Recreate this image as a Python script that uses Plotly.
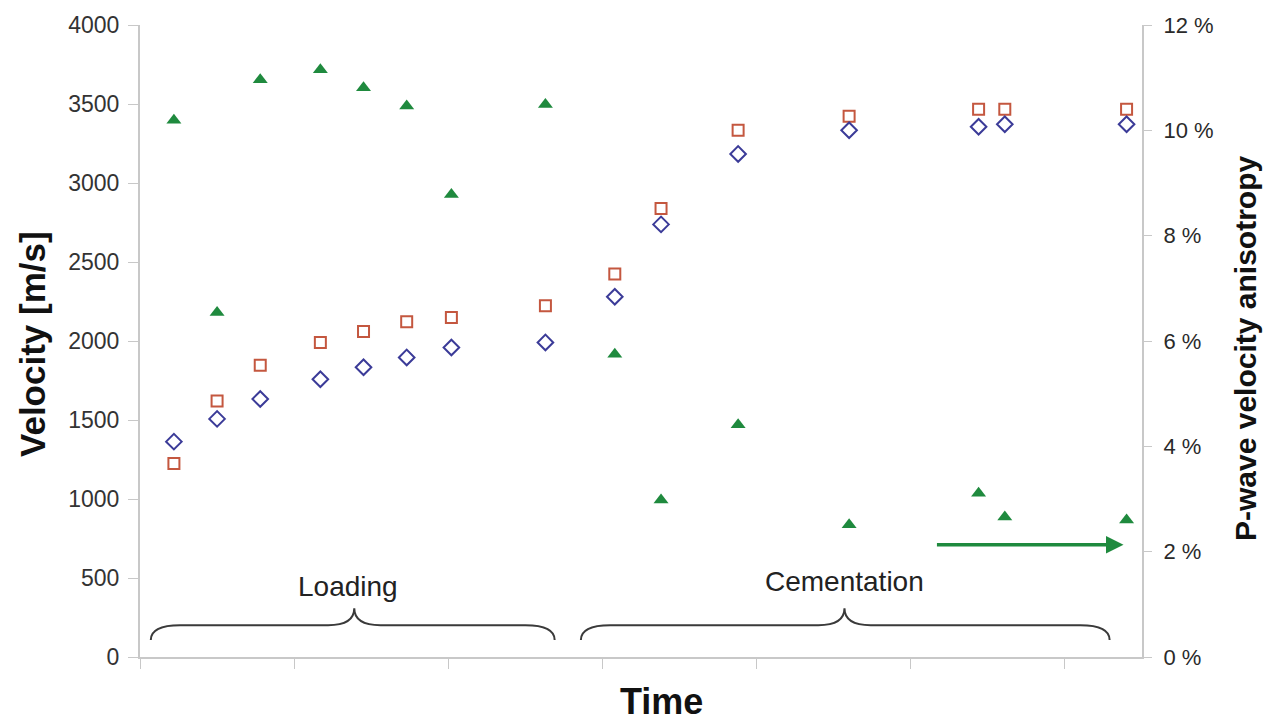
import plotly.graph_objects as go

# ---------------- data ----------------
time = [0.22, 0.50, 0.78, 1.17, 1.45, 1.73, 2.02, 2.63, 3.08, 3.38, 3.88, 4.60, 5.44, 5.61, 6.40]
vel_square = [1225, 1620, 1846, 1991, 2060, 2122, 2148, 2223, 2424, 2838, 3334, 3422, 3466, 3466, 3466]
vel_diamond = [1363, 1507, 1633, 1758, 1834, 1896, 1959, 1991, 2280, 2738, 3184, 3334, 3356, 3372, 3372]
anisotropy = [10.19, 6.54, 10.96, 11.15, 10.81, 10.46, 8.78, 10.49, 5.75, 2.98, 4.41, 2.51, 3.11, 2.66, 2.60]

phase_names = ["Loading", "Cementation"]
phase_start = [0.07, 2.86]
phase_end = [2.69, 6.29]
phase_mid = [1.39, 4.57]
phase_label_x = [1.35, 4.57]
phase_label_y = [445, 480]

arrow_start = 5.16
arrow_end = 6.38
arrow_level = 2.13

x_ticks = [0, 1, 2, 3, 4, 5, 6]
vel_ticks = [0, 500, 1000, 1500, 2000, 2500, 3000, 3500, 4000]
aniso_ticks = [0, 2, 4, 6, 8, 10, 12]
aniso_labels = [f"{v} %" for v in aniso_ticks]

FONT = "Arial, Liberation Sans, sans-serif"
RED = "#c4573f"
BLUE = "#3b3b98"
GREEN = "#1f8a3e"
AXIS = "#c8c8c8"

fig = go.Figure()
fig.add_trace(go.Scatter(x=time, y=vel_square, mode="markers", name="Vp 1",
                         marker=dict(symbol="square-open", size=11, color=RED, line=dict(width=2, color=RED))))
fig.add_trace(go.Scatter(x=time, y=vel_diamond, mode="markers", name="Vp 2",
                         marker=dict(symbol="diamond-open", size=12, color=BLUE, line=dict(width=2, color=BLUE))))
fig.add_trace(go.Scatter(x=time, y=anisotropy, mode="markers", name="Anisotropy", yaxis="y2",
                         marker=dict(symbol="triangle-up", size=13, color=GREEN)))

# braces
y_end, y_flat, y_peak = 107, 201, 308
cw, mw = 0.19, 0.17
for s, e, m in zip(phase_start, phase_end, phase_mid):
    path = (f"M {s},{y_end} Q {s},{y_flat} {s+cw},{y_flat} "
            f"L {m-mw},{y_flat} Q {m},{y_flat} {m},{y_peak} "
            f"Q {m},{y_flat} {m+mw},{y_flat} "
            f"L {e-cw},{y_flat} Q {e},{y_flat} {e},{y_end}")
    fig.add_shape(type="path", path=path, xref="x", yref="y",
                  line=dict(color="#3a3a3a", width=2))

annotations = []
for name, lx, ly in zip(phase_names, phase_label_x, phase_label_y):
    annotations.append(dict(x=lx, y=ly, xref="x", yref="y", text=name, showarrow=False,
                            font=dict(family=FONT, size=28, color="#222222"),
                            xanchor="center", yanchor="middle"))

annotations.append(dict(x=arrow_end, y=arrow_level, xref="x", yref="y2",
                        ax=arrow_start, ay=arrow_level, axref="x", ayref="y2",
                        text="", showarrow=True, arrowhead=2, arrowsize=1,
                        arrowwidth=3.5, arrowcolor=GREEN))

annotations.append(dict(x=0, y=0.5, xref="paper", yref="paper", text="<b>Velocity [m/s]</b>",
                        textangle=-90, showarrow=False, xanchor="center", yanchor="middle",
                        xshift=-108, yshift=-3, font=dict(family=FONT, size=35, color="#111111")))
annotations.append(dict(x=1, y=0.5, xref="paper", yref="paper", text="<b>P-wave velocity anisotropy</b>",
                        textangle=-90, showarrow=False, xanchor="center", yanchor="middle",
                        xshift=103, yshift=-8, font=dict(family=FONT, size=30, color="#111111")))
annotations.append(dict(x=0.5, y=0, xref="paper", yref="paper", text="<b>Time</b>",
                        showarrow=False, xanchor="center", yanchor="middle",
                        xshift=20, yshift=-44, font=dict(family=FONT, size=36, color="#111111")))

fig.update_layout(
    width=1267, height=723,
    margin=dict(l=140, r=125, t=20, b=66),
    plot_bgcolor="white", paper_bgcolor="white",
    showlegend=False,
    annotations=annotations,
    xaxis=dict(range=[0, 6.5], tickvals=x_ticks, showticklabels=False, ticks="outside",
               ticklen=10, tickcolor=AXIS, showline=True, linecolor=AXIS, linewidth=2,
               showgrid=False, zeroline=False),
    yaxis=dict(range=[0, 4000], tickvals=vel_ticks, ticks="outside", ticklen=10,
               tickcolor=AXIS, showline=True, linecolor=AXIS, linewidth=2,
               showgrid=False, zeroline=False, ticklabelstandoff=4,
               tickfont=dict(family=FONT, size=23, color="#333333")),
    yaxis2=dict(range=[0, 12], tickvals=aniso_ticks, ticktext=aniso_labels, overlaying="y",
                side="right", ticks="outside", ticklen=8, tickcolor=AXIS, showline=True,
                linecolor=AXIS, linewidth=2, showgrid=False, zeroline=False,
                ticklabelstandoff=7,
                tickfont=dict(family=FONT, size=22, color="#2a2a2a")),
)

fig.write_html("out.html")
